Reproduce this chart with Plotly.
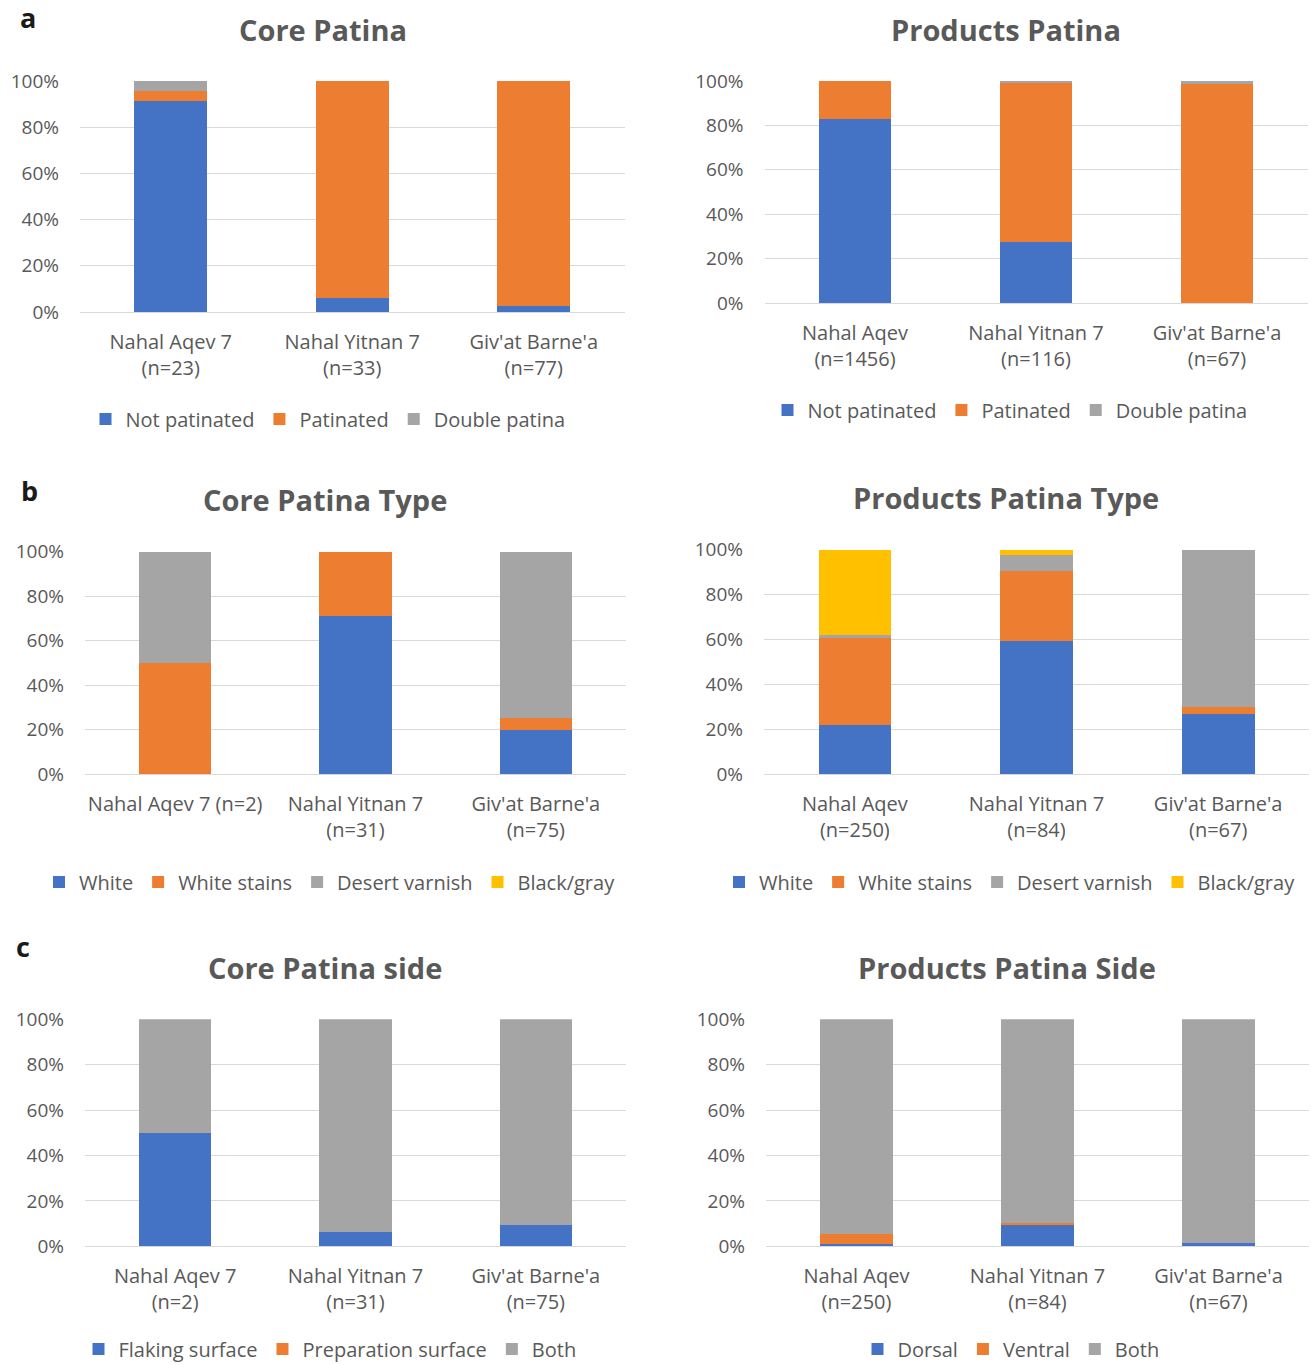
import plotly.graph_objects as go
from plotly.subplots import make_subplots

# ---- categories (site and sample size) ----
core_a_sites = ["Nahal Aqev 7<br>(n=23)", "Nahal Yitnan 7<br>(n=33)", "Giv'at Barne'a<br>(n=77)"]
prod_a_sites = ["Nahal Aqev<br>(n=1456)", "Nahal Yitnan 7<br>(n=116)", "Giv'at Barne'a<br>(n=67)"]
core_b_sites = ["Nahal Aqev 7 (n=2)", "Nahal Yitnan 7<br>(n=31)", "Giv'at Barne'a<br>(n=75)"]
prod_b_sites = ["Nahal Aqev<br>(n=250)", "Nahal Yitnan 7<br>(n=84)", "Giv'at Barne'a<br>(n=67)"]
core_c_sites = ["Nahal Aqev 7<br>(n=2)", "Nahal Yitnan 7<br>(n=31)", "Giv'at Barne'a<br>(n=75)"]
prod_c_sites = ["Nahal Aqev<br>(n=250)", "Nahal Yitnan 7<br>(n=84)", "Giv'at Barne'a<br>(n=67)"]

# ---- percentages ----
core_not_patinated = [91.3, 6.06, 2.6]
core_patinated = [4.35, 93.94, 97.4]
core_double_patina = [4.35, 0, 0]

prod_not_patinated = [82.7, 27.6, 0]
prod_patinated = [17.3, 71.55, 98.51]
prod_double_patina = [0, 0.86, 1.49]

core_type_white = [0, 70.97, 20.0]
core_type_white_stains = [50, 29.03, 5.33]
core_type_desert_varnish = [50, 0, 74.67]
core_type_black_gray = [0, 0, 0]

prod_type_white = [22.0, 59.5, 26.9]
prod_type_white_stains = [38.8, 31.0, 2.99]
prod_type_desert_varnish = [1.2, 7.14, 70.11]
prod_type_black_gray = [38.0, 2.38, 0]

core_side_flaking = [50, 6.45, 9.33]
core_side_preparation = [0, 0, 0]
core_side_both = [50, 93.55, 90.67]

prod_side_dorsal = [0.8, 9.2, 1.3]
prod_side_ventral = [4.4, 1.2, 0]
prod_side_both = [94.8, 89.6, 98.7]

y_tick_values = [0, 20, 40, 60, 80, 100]
y_tick_labels = ["0%", "20%", "40%", "60%", "80%", "100%"]

# ---- styling ----
W, H = 1311, 1365
FONT = "Open Sans"
TXT = "#595959"
GRID = "#d9d9d9"
BLUE, ORANGE, GRAY, YELLOW = "#4472C4", "#ED7D31", "#A5A5A5", "#FFC000"


def fx(px):
    return px / W


def fy(py):
    return 1 - py / H


panels = [
    # (row, col, title, categories, series, plot box px (x0, x1, ytop, ybottom), title pos, legend pos)
    (1, 1, "Core Patina", core_a_sites,
     [("Not patinated", core_not_patinated, BLUE), ("Patinated", core_patinated, ORANGE),
      ("Double patina", core_double_patina, GRAY)],
     (80, 624.5, 81, 312), (323, 29), (328, 419)),
    (1, 2, "Products Patina", prod_a_sites,
     [("Not patinated", prod_not_patinated, BLUE), ("Patinated", prod_patinated, ORANGE),
      ("Double patina", prod_double_patina, GRAY)],
     (764.5, 1307.5, 81, 303), (1006, 29), (1010, 410)),
    (2, 1, "Core Patina Type", core_b_sites,
     [("White", core_type_white, BLUE), ("White stains", core_type_white_stains, ORANGE),
      ("Desert varnish", core_type_desert_varnish, GRAY), ("Black/gray", core_type_black_gray, YELLOW)],
     (85, 626, 551.7, 774.3), (325, 499), (330, 882)),
    (2, 2, "Products Patina Type", prod_b_sites,
     [("White", prod_type_white, BLUE), ("White stains", prod_type_white_stains, ORANGE),
      ("Desert varnish", prod_type_desert_varnish, GRAY), ("Black/gray", prod_type_black_gray, YELLOW)],
     (764, 1309, 549.7, 774.3), (1006, 497), (1010, 882)),
    (3, 1, "Core Patina side", core_c_sites,
     [("Flaking surface", core_side_flaking, BLUE), ("Preparation surface", core_side_preparation, ORANGE),
      ("Both", core_side_both, GRAY)],
     (85, 626, 1019.3, 1246.3), (325, 967), (330, 1349)),
    (3, 2, "Products Patina Side", prod_c_sites,
     [("Dorsal", prod_side_dorsal, BLUE), ("Ventral", prod_side_ventral, ORANGE),
      ("Both", prod_side_both, GRAY)],
     (766, 1309, 1019.3, 1246.3), (1007, 967), (1011, 1349)),
]

fig = make_subplots(rows=3, cols=2)

annotations = []
layout_updates = {}
for i, (row, col, title, cats, series, box, tpos, lpos) in enumerate(panels):
    idx = i + 1
    leg_name = "legend" if idx == 1 else f"legend{idx}"
    for name, vals, color in series:
        fig.add_trace(
            go.Bar(x=cats, y=vals, name=name, marker=dict(color=color, line=dict(width=0)),
                   legend=leg_name, showlegend=True),
            row=row, col=col,
        )
    x0, x1, yt, yb = box
    xa = "xaxis" if idx == 1 else f"xaxis{idx}"
    ya = "yaxis" if idx == 1 else f"yaxis{idx}"
    layout_updates[xa] = dict(
        domain=[fx(x0), fx(x1)], showgrid=False, showline=True, linecolor=GRID, linewidth=1,
        ticks="", ticklabelstandoff=12, tickfont=dict(family=FONT, size=20, color=TXT),
        categoryorder="array", categoryarray=cats, fixedrange=True, automargin=False,
    )
    layout_updates[ya] = dict(
        domain=[fy(yb), fy(yt)], range=[0, 100],
        tickmode="array", tickvals=y_tick_values, ticktext=y_tick_labels,
        showgrid=True, gridcolor=GRID, gridwidth=1, zeroline=False, showline=False,
        ticks="", ticklabelstandoff=20, tickfont=dict(family=FONT, size=19, color=TXT),
        fixedrange=True, automargin=False,
    )
    layout_updates[leg_name] = dict(
        orientation="h", x=fx(lpos[0]), y=fy(lpos[1]), xanchor="center", yanchor="middle",
        font=dict(family=FONT, size=20, color=TXT), bgcolor="rgba(0,0,0,0)",
        itemwidth=30, traceorder="normal",
    )
    annotations.append(dict(
        text=f"<b>{title}</b>", x=fx(tpos[0]), y=fy(tpos[1]), xref="paper", yref="paper",
        xanchor="center", yanchor="middle", showarrow=False,
        font=dict(family=FONT, size=29, color=TXT),
    ))

# panel letters
for letter, px, py in [("a", 28, 18), ("b", 29, 490), ("c", 23, 946)]:
    annotations.append(dict(
        text=f"<b>{letter}</b>", x=fx(px), y=fy(py), xref="paper", yref="paper",
        xanchor="center", yanchor="middle", showarrow=False,
        font=dict(family=FONT, size=27, color="#1a1a1a"),
    ))

fig.update_layout(
    width=W, height=H, margin=dict(l=0, r=0, t=0, b=0, autoexpand=False),
    paper_bgcolor="white", plot_bgcolor="white",
    barmode="stack", bargap=0.6,
    annotations=annotations,
    **layout_updates,
)

fig.write_html("out.html", config={"displayModeBar": False})
